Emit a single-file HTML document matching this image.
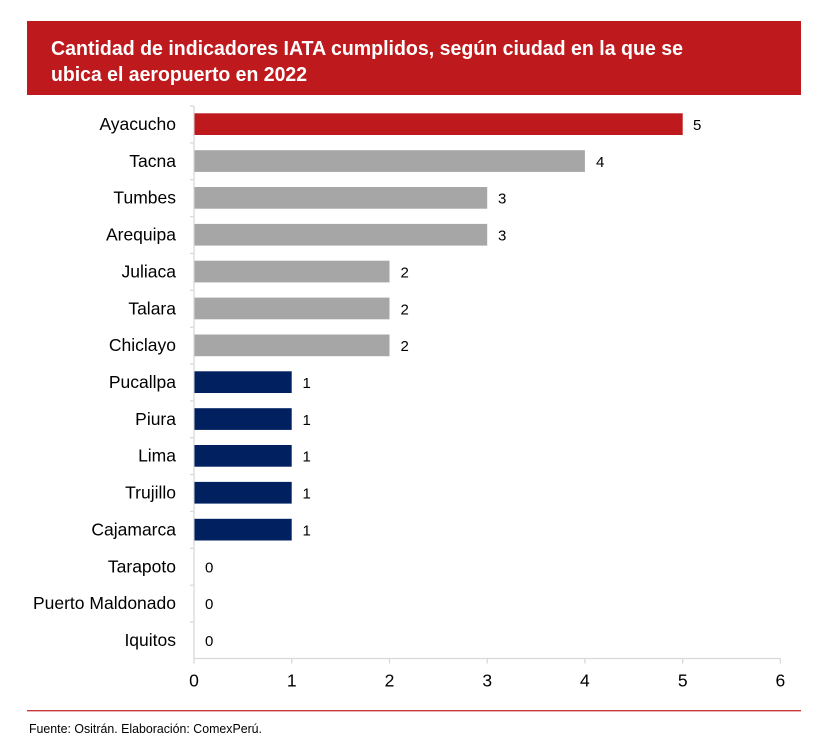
<!DOCTYPE html>
<html>
<head>
<meta charset="utf-8">
<style>
html,body{margin:0;padding:0;background:#fff;}
svg{display:block;}
text{font-family:"Liberation Sans",Arial,sans-serif;}
</style>
</head>
<body>
<svg width="826" height="747" viewBox="0 0 826 747" xmlns="http://www.w3.org/2000/svg">
  <rect x="0" y="0" width="826" height="747" fill="#ffffff"/>
  <!-- Header -->
  <rect x="27" y="21" width="774" height="74" fill="#BE1A1D"/>
  <text x="51" y="55" font-size="20" font-weight="bold" fill="#ffffff" textLength="632" lengthAdjust="spacingAndGlyphs">Cantidad de indicadores IATA cumplidos, según ciudad en la que se</text>
  <text x="51" y="81" font-size="20" font-weight="bold" fill="#ffffff" textLength="256" lengthAdjust="spacingAndGlyphs">ubica el aeropuerto en 2022</text>

  <!-- Axes -->
  <g stroke="#d9d9d9" stroke-width="1.3" fill="none">
    <line x1="194" y1="106" x2="194" y2="659"/>
    <line x1="194" y1="658.5" x2="780.4" y2="658.5"/>
    <!-- category ticks -->
    <line x1="190" y1="106" x2="194" y2="106"/>
    <line x1="190" y1="142.9" x2="194" y2="142.9"/>
    <line x1="190" y1="179.7" x2="194" y2="179.7"/>
    <line x1="190" y1="216.6" x2="194" y2="216.6"/>
    <line x1="190" y1="253.4" x2="194" y2="253.4"/>
    <line x1="190" y1="290.3" x2="194" y2="290.3"/>
    <line x1="190" y1="327.2" x2="194" y2="327.2"/>
    <line x1="190" y1="364" x2="194" y2="364"/>
    <line x1="190" y1="400.9" x2="194" y2="400.9"/>
    <line x1="190" y1="437.7" x2="194" y2="437.7"/>
    <line x1="190" y1="474.6" x2="194" y2="474.6"/>
    <line x1="190" y1="511.5" x2="194" y2="511.5"/>
    <line x1="190" y1="548.3" x2="194" y2="548.3"/>
    <line x1="190" y1="585.2" x2="194" y2="585.2"/>
    <line x1="190" y1="622" x2="194" y2="622"/>
    <!-- value ticks -->
    <line x1="194" y1="658.5" x2="194" y2="663.5"/>
    <line x1="291.7" y1="658.5" x2="291.7" y2="663.5"/>
    <line x1="389.5" y1="658.5" x2="389.5" y2="663.5"/>
    <line x1="487.2" y1="658.5" x2="487.2" y2="663.5"/>
    <line x1="584.9" y1="658.5" x2="584.9" y2="663.5"/>
    <line x1="682.7" y1="658.5" x2="682.7" y2="663.5"/>
    <line x1="780.4" y1="658.5" x2="780.4" y2="663.5"/>
  </g>

  <!-- Bars -->
  <rect x="194.5" y="113.3" width="488.2" height="21.7" fill="#BE1A1D"/>
  <rect x="194.5" y="150.2" width="390.4" height="21.7" fill="#A6A6A6"/>
  <rect x="194.5" y="187.0" width="292.7" height="21.7" fill="#A6A6A6"/>
  <rect x="194.5" y="223.9" width="292.7" height="21.7" fill="#A6A6A6"/>
  <rect x="194.5" y="260.7" width="195.0" height="21.7" fill="#A6A6A6"/>
  <rect x="194.5" y="297.6" width="195.0" height="21.7" fill="#A6A6A6"/>
  <rect x="194.5" y="334.5" width="195.0" height="21.7" fill="#A6A6A6"/>
  <rect x="194.5" y="371.3" width="97.2" height="21.7" fill="#002060"/>
  <rect x="194.5" y="408.2" width="97.2" height="21.7" fill="#002060"/>
  <rect x="194.5" y="445.0" width="97.2" height="21.7" fill="#002060"/>
  <rect x="194.5" y="481.9" width="97.2" height="21.7" fill="#002060"/>
  <rect x="194.5" y="518.8" width="97.2" height="21.7" fill="#002060"/>

  <!-- Category labels -->
  <g font-size="17.5" fill="#000" text-anchor="end">
    <text x="176" y="130">Ayacucho</text>
    <text x="176" y="166.9">Tacna</text>
    <text x="176" y="203.7">Tumbes</text>
    <text x="176" y="240.6">Arequipa</text>
    <text x="176" y="277.4">Juliaca</text>
    <text x="176" y="314.3">Talara</text>
    <text x="176" y="351.2">Chiclayo</text>
    <text x="176" y="388">Pucallpa</text>
    <text x="176" y="424.9">Piura</text>
    <text x="176" y="461.7">Lima</text>
    <text x="176" y="498.6">Trujillo</text>
    <text x="176" y="535.5">Cajamarca</text>
    <text x="176" y="572.3">Tarapoto</text>
    <text x="176" y="609.2">Puerto Maldonado</text>
    <text x="176" y="646">Iquitos</text>
  </g>

  <!-- Value labels -->
  <g font-size="15" fill="#000">
    <text x="693" y="130">5</text>
    <text x="596" y="166.9">4</text>
    <text x="498" y="203.7">3</text>
    <text x="498" y="240.6">3</text>
    <text x="400.5" y="277.4">2</text>
    <text x="400.5" y="314.3">2</text>
    <text x="400.5" y="351.2">2</text>
    <text x="302.5" y="388">1</text>
    <text x="302.5" y="424.9">1</text>
    <text x="302.5" y="461.7">1</text>
    <text x="302.5" y="498.6">1</text>
    <text x="302.5" y="535.5">1</text>
    <text x="205" y="572.3">0</text>
    <text x="205" y="609.2">0</text>
    <text x="205" y="646">0</text>
  </g>

  <!-- Axis tick labels -->
  <g font-size="17.5" fill="#000" text-anchor="middle">
    <text x="194" y="686.5">0</text>
    <text x="291.7" y="686.5">1</text>
    <text x="389.5" y="686.5">2</text>
    <text x="487.2" y="686.5">3</text>
    <text x="584.9" y="686.5">4</text>
    <text x="682.7" y="686.5">5</text>
    <text x="780.4" y="686.5">6</text>
  </g>

  <!-- Footer line -->
  <line x1="27" y1="710.7" x2="801" y2="710.7" stroke="#C8373C" stroke-width="1.3"/>
  <text x="29" y="733" font-size="13" fill="#000" textLength="233" lengthAdjust="spacingAndGlyphs">Fuente: Ositrán. Elaboración: ComexPerú.</text>
</svg>
</body>
</html>
